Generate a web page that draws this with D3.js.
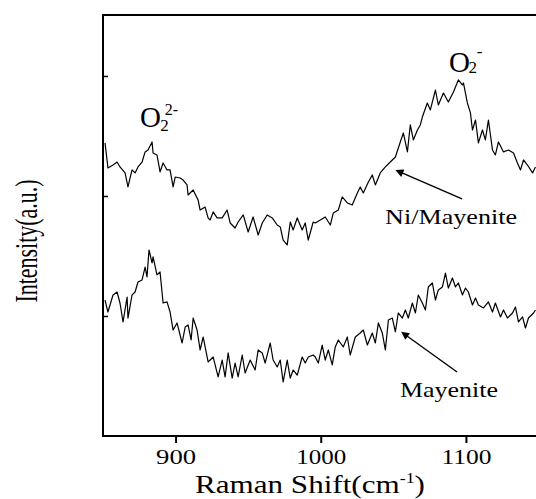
<!DOCTYPE html>
<html>
<head>
<meta charset="utf-8">
<script src="https://cdn.jsdelivr.net/npm/d3@7"></script>
<style>
    body { margin: 0; background: #fff; }
    #ramanChart svg { display: block; }
    #ramanChart text { font-family: "Liberation Serif", "Times New Roman", serif; }
</style>
</head>
<body>
<div id="ramanChart"></div>
<script>
const margin = {top: 15, right: 0, bottom: 63, left: 103};
const svgWidth = 536, svgHeight = 499;
const width = 435.5;
const height = svgHeight - margin.top - margin.bottom;

// Ni/Mayenite spectrum (Raman shift in cm-1, intensity in a.u.)
const niShift = [851.4, 853.4, 856.9, 859.7, 861.7, 865.2, 867.2, 870.0, 872.1, 874.1, 876.9, 879.0, 881.0, 883.8, 884.5, 887.2,
    889.3, 891.4, 894.1, 896.2, 898.3, 899.7, 903.1, 905.2, 907.9, 908.6, 912.1, 915.5, 916.9, 920.3, 922.4, 923.8, 925.9,
    928.6, 932.1, 935.5, 937.6, 941.0, 943.1, 946.6, 950.0, 953.4, 956.9, 959.7, 963.1, 966.6, 970.0, 972.1, 974.1, 976.9,
    979.0, 981.0, 983.8, 987.2, 989.3, 991.4, 994.8, 996.2, 999.7, 1003.1, 1006.6, 1008.6, 1012.1, 1014.8, 1018.3, 1021.7,
    1025.2, 1027.2, 1029.3, 1032.8, 1035.5, 1037.6, 1041.0, 1044.5, 1047.9, 1051.4, 1054.8, 1056.9, 1059.7, 1061.7, 1063.8,
    1066.6, 1068.6, 1070.0, 1073.4, 1075.5, 1079.0, 1081.0, 1084.5, 1087.9, 1091.4, 1094.8, 1097.6, 1098.3, 1101.0, 1103.1,
    1104.5, 1106.6, 1108.6, 1111.4, 1113.4, 1115.5, 1118.3, 1120.3, 1122.4, 1125.9, 1129.3, 1132.8, 1135.5, 1137.6, 1139.7,
    1142.4, 1145.9, 1147.9];
const niIntensity = [244.2, 223.3, 225.8, 228.3, 224.2, 219.2, 207.5, 221.7, 219.2, 224.2, 228.3, 236.7, 238.3, 245.0, 235.8, 234.2,
    220.0, 227.5, 221.7, 221.7, 207.5, 215.8, 215.0, 213.3, 209.2, 200.8, 205.0, 196.7, 188.3, 190.8, 181.7, 180.0, 186.7,
    181.7, 181.7, 188.3, 177.5, 173.3, 178.3, 184.2, 170.0, 182.5, 167.5, 177.5, 184.2, 181.7, 175.8, 174.2, 163.3, 159.2,
    178.3, 171.7, 181.7, 171.7, 177.5, 163.3, 178.3, 177.5, 180.0, 182.5, 175.8, 185.8, 188.3, 199.2, 194.2, 192.5,
    202.5, 207.5, 202.5, 211.7, 217.5, 209.2, 219.2, 224.2, 228.3, 232.5, 245.0, 252.5, 236.7, 259.2, 246.7,
    255.0, 259.2, 265.8, 277.5, 271.7, 288.3, 275.8, 285.8, 278.3, 286.7, 296.7, 292.5, 294.2, 277.5, 269.2,
    255.0, 263.3, 244.2, 255.0, 246.7, 263.3, 238.3, 234.2, 245.0, 236.7, 238.3, 235.8, 227.5, 221.7, 230.0,
    225.8, 219.2, 224.2];

// Mayenite spectrum
const mayShift = [851.4, 853.4, 856.9, 859.7, 861.7, 863.8, 866.6, 867.2, 870.0, 872.1, 874.1, 876.9, 879.0, 880.3, 881.7, 883.8,
    884.5, 887.2, 889.3, 891.4, 894.1, 896.2, 898.3, 901.0, 904.5, 906.6, 908.6, 910.7, 912.1, 914.8, 916.9, 919.0, 922.4,
    923.8, 925.9, 929.3, 932.1, 934.1, 936.2, 939.0, 941.0, 943.1, 945.9, 947.9, 951.4, 954.8, 956.9, 959.7, 961.7, 965.2,
    967.2, 970.0, 972.1, 974.1, 976.9, 979.0, 981.0, 983.8, 987.2, 989.3, 991.4, 994.8, 996.2, 998.3, 1001.0, 1003.1,
    1005.2, 1007.9, 1010.0, 1012.1, 1015.5, 1018.3, 1020.3, 1023.8, 1027.2, 1029.3, 1032.1, 1035.5, 1037.6, 1039.7, 1042.4,
    1044.5, 1046.6, 1049.3, 1051.4, 1053.4, 1056.2, 1058.3, 1060.3, 1063.1, 1065.2, 1067.2, 1070.0, 1072.1, 1074.1, 1076.9,
    1079.0, 1081.0, 1083.8, 1085.9, 1087.9, 1090.7, 1092.8, 1094.8, 1097.6, 1099.7, 1101.7, 1104.5, 1106.6, 1108.6, 1112.1,
    1115.5, 1118.3, 1120.3, 1123.8, 1125.9, 1128.6, 1132.1, 1134.1, 1136.2, 1139.0, 1141.0, 1143.1, 1146.6, 1147.9];
const mayIntensity = [113.3, 103.3, 117.5, 120.0, 110.8, 95.0, 115.8, 98.3, 117.5, 120.0, 128.3, 130.0, 140.8, 132.5, 155.0, 144.2,
    149.2, 134.2, 136.7, 110.8, 111.7, 103.3, 88.3, 94.2, 77.5, 90.8, 92.5, 80.0, 98.3, 88.3, 71.7, 82.5, 61.7,
    63.3, 65.8, 49.2, 63.3, 49.2, 69.2, 48.3, 60.8, 49.2, 67.5, 52.5, 63.3, 55.0, 71.7, 69.2, 60.8, 77.5,
    63.3, 57.5, 63.3, 45.0, 63.3, 48.3, 55.0, 50.8, 65.8, 60.8, 65.8, 67.5, 65.8, 60.8, 75.8, 63.3,
    71.7, 59.2, 74.2, 80.0, 74.2, 82.5, 67.5, 82.5, 85.8, 88.3, 75.8, 85.8, 77.5, 94.2, 85.8,
    71.7, 96.7, 98.3, 86.7, 102.5, 98.3, 105.0, 98.3, 110.8, 102.5, 117.5, 110.8, 105.0, 124.2, 127.5,
    113.3, 121.7, 124.2, 135.8, 123.3, 131.7, 124.2, 127.5, 117.5, 123.3, 120.0, 109.2, 115.0, 109.2, 106.7,
    111.7, 103.3, 110.8, 99.2, 105.0, 98.3, 102.5, 107.5, 95.0, 99.2, 90.0, 98.3, 102.5, 105.0];

const xDomain = [850, 1150];
const yDomain = [0, 350.8];
const xTicks = [900, 1000, 1100];
const xTickWidths = [40, 50, 50];
const yTicks = [100, 200, 300];

function createChart() {
    const container = d3.select('#ramanChart');
    container.select('svg').remove();

    const root = container.append('svg')
        .attr('width', svgWidth)
        .attr('height', svgHeight)
        .style('overflow', 'hidden');

    root.append('defs').append('marker')
        .attr('id', 'arrowHead')
        .attr('viewBox', '0 0 10 10')
        .attr('refX', 1).attr('refY', 5)
        .attr('markerWidth', 13).attr('markerHeight', 8)
        .attr('markerUnits', 'userSpaceOnUse')
        .attr('orient', 'auto')
        .append('path')
        .attr('d', 'M10,5 L0,0 L0,10 Z')
        .attr('fill', '#000');

    const svg = root.append('g')
        .attr('transform', `translate(${margin.left},${margin.top})`);

    const x = d3.scaleLinear().domain(xDomain).range([0, width]);
    const y = d3.scaleLinear().domain(yDomain).range([height, 0]);

    drawSpectra(svg, x, y);
    addAxes(svg, x, y);
    addAnnotations(svg, x, y);
    addTitles(root);
}

function drawSpectra(svg, x, y) {
    const series = [
        {shift: niShift, intensity: niIntensity},
        {shift: mayShift, intensity: mayIntensity}
    ];
    const line = d3.line()
        .x(d => x(d[0]))
        .y(d => y(d[1]));

    series.forEach(s => {
        svg.append('path')
            .datum(d3.zip(s.shift, s.intensity))
            .attr('fill', 'none')
            .attr('stroke', '#000')
            .attr('stroke-width', 1.2)
            .attr('stroke-linejoin', 'round')
            .attr('d', line);
    });
}

function addAxes(svg, x, y) {
    // frame
    svg.append('path')
        .attr('d', `M${width},0 H0 V${height} H${width}`)
        .attr('fill', 'none')
        .attr('stroke', '#000')
        .attr('stroke-width', 2);

    svg.append('g')
        .call(d3.axisLeft(y).tickValues(yTicks).tickSize(-5).tickFormat(''))
        .call(g => g.select('.domain').remove())
        .selectAll('line').attr('stroke-width', 1.5);

    const xAxis = svg.append('g')
        .attr('transform', `translate(0,${height})`)
        .call(d3.axisBottom(x).tickValues(xTicks).tickSize(7).tickPadding(5).tickFormat(d3.format('d')))
        .call(g => g.select('.domain').remove());

    xAxis.selectAll('line').attr('stroke-width', 2);
    xAxis.selectAll('text')
        .style('font-size', '22px')
        .attr('fill', '#000')
        .attr('textLength', (d, i) => xTickWidths[i])
        .attr('lengthAdjust', 'spacingAndGlyphs');
}

function addAnnotations(svg, x, y) {
    // peak labels
    const peak = svg.append('g').attr('fill', '#000');
    peak.append('text').attr('x', x(875.5)).attr('y', y(257.5)).style('font-size', '29px').text('O');
    peak.append('text').attr('x', x(889.5)).attr('y', y(254.5)).style('font-size', '17px').text('2');
    peak.append('text').attr('x', x(892.5)).attr('y', y(267.5)).style('font-size', '16px').text('2-');

    peak.append('text').attr('x', x(1088.3)).attr('y', y(303.3)).style('font-size', '29px').text('O');
    peak.append('text').attr('x', x(1101.8)).attr('y', y(302.5)).style('font-size', '17px').text('2');
    peak.append('text').attr('x', x(1107.5)).attr('y', y(316)).style('font-size', '17px').text('-');

    // sample labels with arrows (tail -> tip)
    const labels = [
        {text: 'Ni/Mayenite', x: 1044.3, y: 176.7, len: 132, tip: [1056.0, 219.2], tail: [1097.3, 197.5]},
        {text: 'Mayenite', x: 1054.6, y: 32.5, len: 98, tip: [1059.4, 83.3], tail: [1093.9, 53.3]}
    ];

    labels.forEach(l => {
        svg.append('line')
            .attr('x1', x(l.tail[0])).attr('y1', y(l.tail[1]))
            .attr('x2', x(l.tip[0])).attr('y2', y(l.tip[1]))
            .attr('stroke', '#000')
            .attr('stroke-width', 1.4)
            .attr('marker-end', 'url(#arrowHead)');

        svg.append('text')
            .attr('x', x(l.x)).attr('y', y(l.y))
            .attr('textLength', l.len)
            .attr('lengthAdjust', 'spacingAndGlyphs')
            .style('font-size', '21px')
            .text(l.text);
    });
}

function addTitles(root) {
    root.append('text')
        .attr('transform', 'translate(37,241) rotate(-90)')
        .attr('text-anchor', 'middle')
        .attr('textLength', 123)
        .attr('lengthAdjust', 'spacingAndGlyphs')
        .style('font-size', '32px')
        .text('Intensity(a.u.)');

    const title = root.append('text')
        .attr('x', 195)
        .attr('y', 493)
        .attr('textLength', 230)
        .attr('lengthAdjust', 'spacingAndGlyphs')
        .style('font-size', '26px');
    title.append('tspan').text('Raman Shift(cm');
    title.append('tspan').attr('dy', -10).style('font-size', '15px').text('-1');
    title.append('tspan').attr('dy', 10).text(')');
}

document.addEventListener('DOMContentLoaded', createChart);
</script>
</body>
</html>
